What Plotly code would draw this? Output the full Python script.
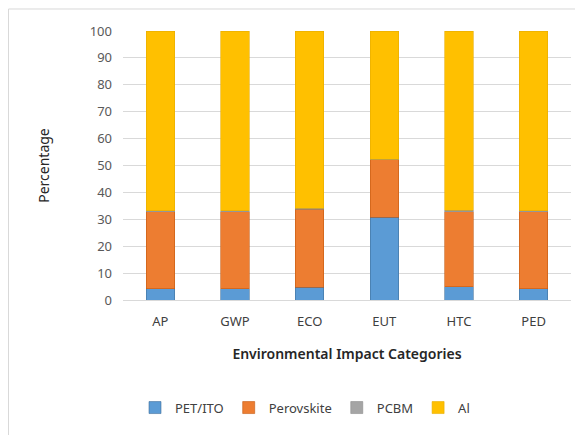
import plotly.graph_objects as go

categories = ["AP", "GWP", "ECO", "EUT", "HTC", "PED"]
pet_ito = [4.2, 4.2, 4.8, 30.7, 4.9, 4.2]
perovskite = [28.6, 28.6, 28.9, 21.4, 28.0, 28.6]
pcbm = [0.4, 0.4, 0.4, 0.3, 0.4, 0.4]
al = [66.8, 66.8, 65.9, 47.6, 66.7, 66.8]
y_ticks = [0, 10, 20, 30, 40, 50, 60, 70, 80, 90, 100]

series = [
    ("PET/ITO", pet_ito, "#5B9BD5", "#41719C"),
    ("Perovskite", perovskite, "#ED7D31", "#C55A11"),
    ("PCBM", pcbm, "#A5A5A5", "#8C8C8C"),
    ("Al", al, "#FFC000", "#E6AC00"),
]

# page body adds an 8px offset, so the figure is drawn 8px smaller
OFF = 8
W, H = 583 - OFF, 435 - OFF
L, R, T, B = 123 - OFF, 20 - OFF, 31 - OFF, 137 - OFF
pw, ph = W - L - R, H - T - B

fig = go.Figure()
for name, vals, col, edge in series:
    fig.add_trace(go.Bar(x=categories, y=vals, name=name,
                         marker=dict(color=col, line=dict(color=edge, width=0.6))))

fig.update_layout(
    width=W, height=H,
    barmode="stack", bargap=0.62,
    margin=dict(l=L, r=R, t=T, b=B),
    paper_bgcolor="white", plot_bgcolor="white",
    font=dict(family="Noto Sans", size=13, color="#404040"),
    legend=dict(orientation="h", x=(305 - 123) / pw, xanchor="center",
                y=-(408 - 298) / ph, yanchor="middle",
                font=dict(size=13, color="#404040"), traceorder="normal",
                itemwidth=30),
    showlegend=True,
)
fig.update_yaxes(range=[0, 100], tickvals=y_ticks, showgrid=True, gridcolor="#D9D9D9",
                 gridwidth=1, zeroline=False, showline=False, ticklabelstandoff=10,
                 tickfont=dict(size=13, color="#595959"),
                 title=dict(text="Percentage", font=dict(size=14, color="#262626"), standoff=36))
fig.update_xaxes(showline=True, linecolor="#D9D9D9", linewidth=1, ticks="",
                 tickfont=dict(size=13, color="#404040"), ticklabelstandoff=9,
                 title=dict(text="Environmental Impact Categories",
                            font=dict(size=14, color="#262626", weight=600), standoff=20))

# outer chart frame, hugging the figure's top-left edge
fig.add_shape(type="rect", xref="paper", yref="paper",
              x0=(0.5 - L) / pw, x1=(W + 20 - L) / pw,
              y0=-(H + 20 - T - ph) / ph, y1=(T - 0.5) / ph + 1,
              line=dict(color="#D9D9D9", width=1), layer="below")

fig.write_html("out.html")
